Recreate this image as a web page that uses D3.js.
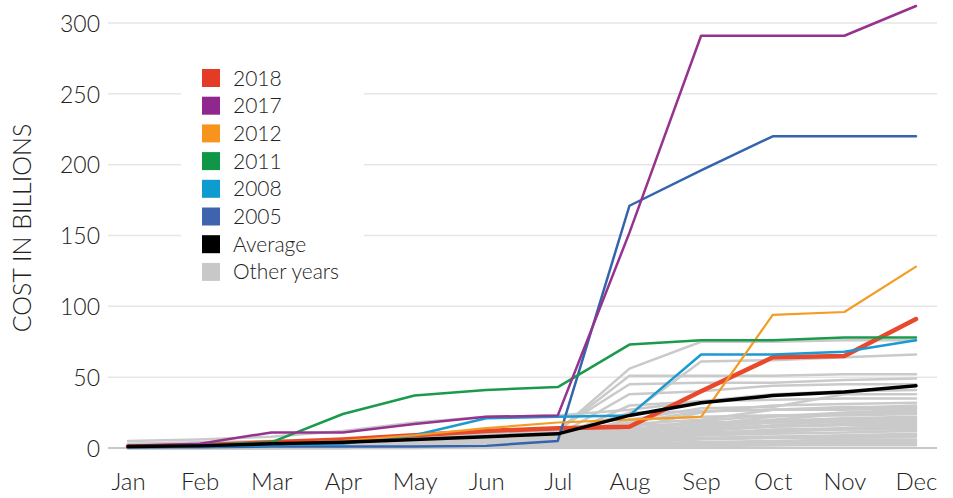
<!DOCTYPE html>
<html>
<head>
<meta charset="utf-8">
<script src="https://cdn.jsdelivr.net/npm/d3@7"></script>
<style>
  body { margin: 0; background: #fff; }
  svg text { font-family: Lato, "Open Sans", sans-serif; font-weight: 300; fill: #222; }
</style>
</head>
<body>
<div class="container"></div>
<script>
//-----------------------------DATA-----------------------------//
const months = ["Jan", "Feb", "Mar", "Apr", "May", "Jun", "Jul", "Aug", "Sep", "Oct", "Nov", "Dec"];
const yTicks = [0, 50, 100, 150, 200, 250, 300];

const y2018 = [1, 2, 4, 6, 9, 12, 14, 15, 40, 64, 65, 91];
const y2017 = [1.5, 3, 11, 11, 17, 22, 23, 152, 291, 291, 291, 312];
const y2012 = [1, 1.5, 3, 5, 9, 14, 18, 20, 22, 94, 96, 128];
const y2011 = [1, 2, 4, 24, 37, 41, 43, 73, 76, 76, 78, 78];
const y2008 = [0.5, 1, 2, 3, 9, 21, 22, 23, 66, 66, 68, 76];
const y2005 = [0.5, 0.5, 1, 1, 1, 1.5, 5, 171, 196, 220, 220, 220];
const average = [1, 1.5, 3, 4, 6, 8, 10, 23, 32, 37, 39.5, 44];

const otherYears = [
    [1, 2, 3, 4, 6, 8, 12, 56, 75, 75, 76, 76],
    [1, 1, 2, 4, 6, 9, 11, 24, 61, 62, 64, 66],
    [2, 3, 4, 6, 8, 10, 12, 51, 51, 51, 52, 52],
    [1, 2, 3, 5, 8, 11, 13, 45, 46, 46, 48, 49],
    [0, 1, 2, 3, 5, 7, 9, 38, 40, 44, 45, 45],
    [5, 6, 8, 12, 18, 22, 23, 27, 33, 38, 40, 41],
    [1, 1, 2, 3, 4, 6, 8, 20, 28, 29, 38, 38],
    [0, 1, 1, 2, 4, 5, 7, 30, 33, 34, 35, 35],
    [1, 2, 3, 4, 5, 6, 7, 14, 25, 30, 31, 32],
    [0, 0, 1, 2, 3, 5, 6, 18, 26, 27, 28, 30],
    [1, 1, 2, 3, 5, 7, 9, 25, 26, 27, 27, 28],
    [0, 1, 2, 2, 3, 4, 5, 10, 15, 20, 24, 26],
    [0, 0, 1, 2, 3, 4, 6, 20, 22, 23, 23, 24],
    [1, 2, 2, 3, 4, 5, 6, 12, 18, 19, 21, 22],
    [0, 1, 1, 2, 3, 3, 4, 8, 14, 18, 20, 21],
    [0, 0, 1, 1, 2, 3, 5, 16, 17, 18, 18, 19],
    [1, 1, 2, 3, 4, 5, 6, 9, 12, 15, 17, 18],
    [0, 0, 1, 2, 2, 3, 4, 12, 14, 15, 16, 16],
    [0, 1, 1, 2, 3, 4, 5, 7, 10, 13, 14, 15],
    [0, 0, 0, 1, 2, 3, 4, 9, 11, 12, 13, 13],
    [0, 0, 1, 1, 2, 2, 3, 6, 9, 10, 11, 12],
    [0, 0, 0, 1, 1, 2, 3, 5, 7, 8, 9, 10],
    [0, 0, 1, 1, 2, 3, 3, 6, 7, 8, 8, 9],
    [0, 0, 0, 1, 1, 2, 2, 4, 6, 7, 7, 8],
    [0, 0, 0, 0, 1, 1, 2, 3, 4, 5, 6, 6],
    [0, 0, 0, 1, 1, 1, 2, 3, 4, 4, 5, 5],
    [0, 0, 0, 0, 1, 1, 1, 2, 3, 3, 4, 4],
    [0, 0, 0, 0, 0, 1, 1, 2, 2, 2, 3, 3],
    [0, 0, 0, 0, 0, 0, 1, 1, 1, 2, 2, 2],
    [2, 3, 4, 5, 6, 7, 9, 17, 20, 27, 29, 29],
    [1, 2, 3, 4, 5, 6, 7, 11, 16, 22, 25, 27],
    [0, 1, 2, 3, 4, 5, 6, 13, 19, 23, 24, 25],
    [0, 1, 1, 2, 3, 4, 5, 8, 13, 16, 19, 20],
    [0, 0, 1, 1, 2, 3, 4, 7, 9, 11, 14, 17],
    [3, 4, 5, 6, 7, 8, 9, 10, 11, 12, 13, 14]
];

const legendLabels = ["2018", "2017", "2012", "2011", "2008", "2005", "Average", "Other years"];
const legendColors = ["#e33b26", "#90278e", "#f7941e", "#109647", "#0e9bd0", "#3f64ae", "#000000", "#c8c8c8"];

//------------------------1. PREPARATION------------------------//
const width = 953, height = 498;
const svg = d3.select(".container").append("svg")
    .attr("width", width)
    .attr("height", height);

const xScale = d3.scalePoint().domain(months).range([128, 916]);
const yScale = d3.scaleLinear().domain([0, 300]).range([448, 23]);

const line = d3.line()
    .x(function (d, i) { return xScale(months[i]); })
    .y(function (d) { return yScale(d); });

//-----------------------------GRID-----------------------------//
svg.append("g")
    .selectAll("line")
    .data(yTicks)
    .enter()
    .append("line")
    .attr("x1", 108)
    .attr("x2", 937)
    .attr("y1", d => yScale(d))
    .attr("y2", d => yScale(d))
    .attr("stroke", d => d === 0 ? "#c8c8c8" : "#e6e6e6")
    .attr("stroke-width", d => d === 0 ? 2 : 1.5);

//-----------------------------AXES-----------------------------//
const yaxis = d3.axisLeft(yScale).tickValues(yTicks).tickSize(0).tickPadding(0);
const gy = svg.append("g")
    .attr("transform", "translate(100,0)")
    .call(yaxis);
gy.select(".domain").remove();
gy.selectAll("text").style("font-size", "23px").attr("dy", "0.36em");

const xaxis = d3.axisBottom(xScale).tickSize(0).tickPadding(0);
const gx = svg.append("g")
    .attr("transform", "translate(0,473)")
    .call(xaxis);
gx.select(".domain").remove();
gx.selectAll("text").style("font-size", "24px").attr("dy", "0.71em");

svg.append("text")
    .attr("transform", "translate(31,228) rotate(-90)")
    .attr("text-anchor", "middle")
    .style("font-size", "25px")
    .text("COST IN BILLIONS");

//----------------------------LINES-----------------------------//
const gLines = svg.append("g")
    .attr("fill", "none")
    .attr("stroke-linejoin", "round")
    .attr("stroke-linecap", "round");

gLines.selectAll(".other")
    .data(otherYears)
    .enter()
    .append("path")
    .attr("class", "other")
    .attr("d", line)
    .attr("stroke", "#cacaca")
    .attr("stroke-width", 2.5);

const highlighted = [
    { values: y2018, color: "#e8482c", w: 4.5 },
    { values: y2005, color: "#3464ad", w: 2.5 },
    { values: y2008, color: "#1b9ad2", w: 2.5 },
    { values: y2012, color: "#f39c26", w: 2.2 },
    { values: y2011, color: "#1b9a4c", w: 2.5 },
    { values: y2017, color: "#95338f", w: 2.5 },
    { values: average, color: "#000000", w: 3.5 }
];

gLines.selectAll(".hl")
    .data(highlighted)
    .enter()
    .append("path")
    .attr("class", "hl")
    .attr("d", d => line(d.values))
    .attr("stroke", d => d.color)
    .attr("stroke-width", d => d.w);

//----------------------------LEGEND----------------------------//
const legend = svg.append("g");
legend.append("rect")
    .attr("x", 181)
    .attr("y", 55)
    .attr("width", 183)
    .attr("height", 245)
    .attr("fill", "#fff");

const rows = legend.selectAll(".row")
    .data(legendLabels)
    .enter()
    .append("g")
    .attr("transform", (d, i) => "translate(202," + (78 + i * 27.7) + ")");

rows.append("rect")
    .attr("x", 0)
    .attr("y", -9)
    .attr("width", 18)
    .attr("height", 18)
    .attr("fill", (d, i) => legendColors[i]);

rows.append("text")
    .attr("x", 31)
    .attr("dy", "0.36em")
    .style("font-size", "21px")
    .text(d => d);
</script>
</body>
</html>
